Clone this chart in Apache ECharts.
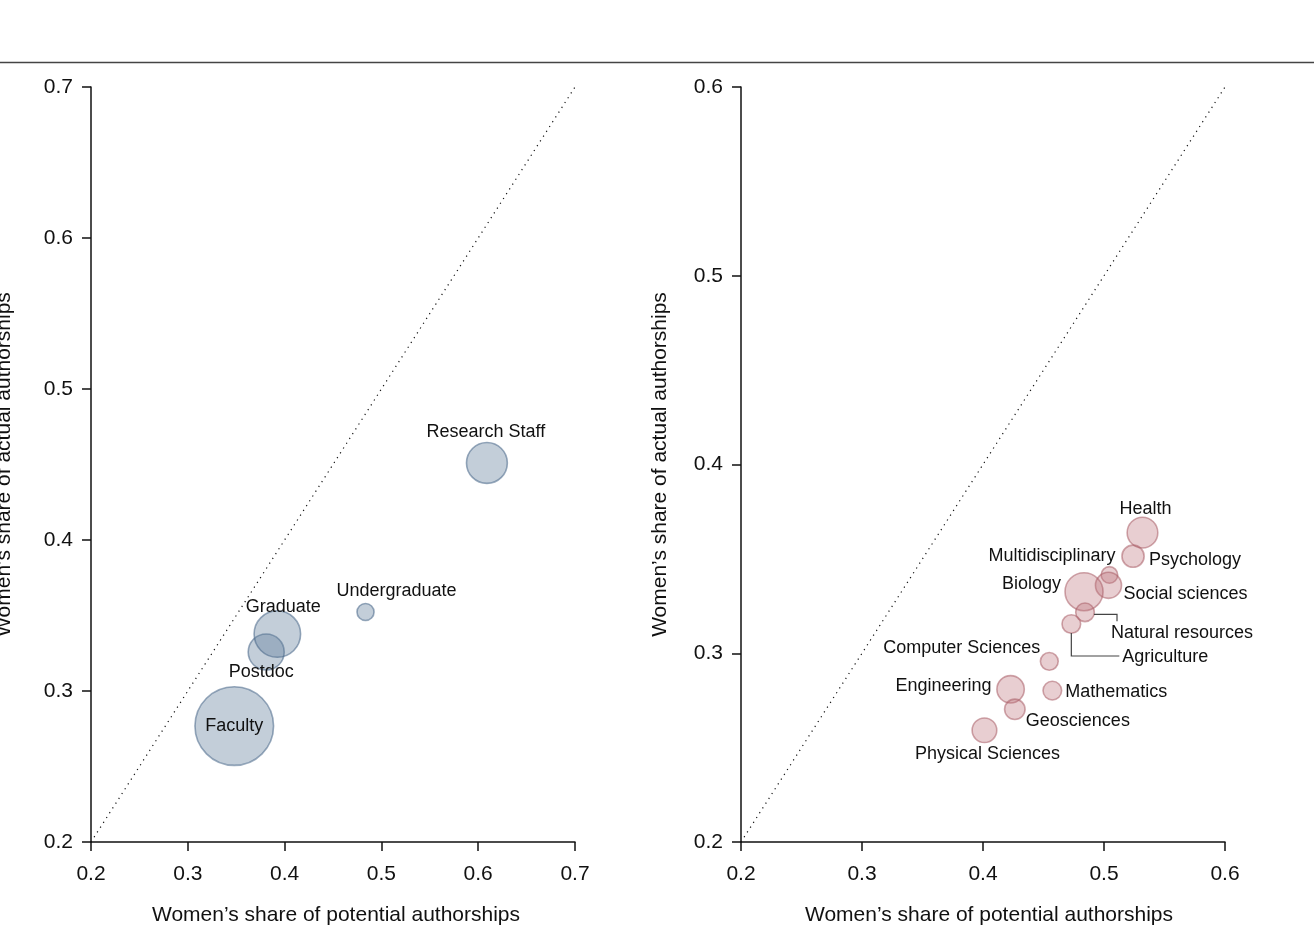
<!DOCTYPE html>
<html><head><meta charset="utf-8">
<script src="https://cdn.jsdelivr.net/npm/echarts@6/dist/echarts.min.js"></script>
<style>html,body{margin:0;padding:0;background:#fff}#c{width:1314px;height:940px}</style>
</head><body><div id="c"></div>
<script>
// ---------- data ----------
const leftNames = ['Faculty', 'Postdoc', 'Graduate', 'Undergraduate', 'Research Staff'];
const leftPotential = [0.348, 0.381, 0.3925, 0.4836, 0.609];
const leftActual = [0.2768, 0.3258, 0.3377, 0.3523, 0.451];
const leftWeight = [100, 21, 35, 4.7, 27];

const rightNames = ['Health', 'Psychology', 'Multidisciplinary', 'Social sciences', 'Biology',
  'Natural resources', 'Agriculture', 'Computer Sciences', 'Mathematics', 'Engineering',
  'Geosciences', 'Physical Sciences'];
const rightPotential = [0.5318, 0.524, 0.5045, 0.5037, 0.4835, 0.4843, 0.473, 0.4548, 0.4573, 0.4228, 0.4263, 0.4012];
const rightActual = [0.3639, 0.3514, 0.3415, 0.336, 0.3326, 0.3217, 0.3155, 0.2957, 0.2802, 0.2809, 0.2703, 0.2592];
const rightWeight = [65, 34, 19, 47, 100, 24, 24, 22, 24, 52, 29, 42];

const leftTicks = [0.2, 0.3, 0.4, 0.5, 0.6, 0.7];
const rightTicks = [0.2, 0.3, 0.4, 0.5, 0.6];
const xTitle = 'Women’s share of potential authorships';
const yTitle = 'Women’s share of actual authorships';

// ---------- styling / placement ----------
const FONT = "'Liberation Sans', Arial, Helvetica, sans-serif";
const TXT = '#111';
const labelPlace = {
  'Research Staff': ['center', [-1, -31]],
  'Undergraduate': ['center', [31, -21]],
  'Graduate': ['center', [6, -27]],
  'Postdoc': ['center', [-5, 20]],
  'Faculty': ['center', [0, 0]],
  'Health': ['center', [3, -24]],
  'Psychology': ['left', [16, 4]],
  'Multidisciplinary': ['right', [6, -19]],
  'Social sciences': ['left', [15, 9]],
  'Biology': ['right', [-23, -8]],
  'Natural resources': ['left', [26, 21]],
  'Agriculture': ['left', [51, 33]],
  'Computer Sciences': ['right', [-9, -13]],
  'Mathematics': ['left', [13, 1]],
  'Engineering': ['right', [-19, -3]],
  'Geosciences': ['left', [11, 12]],
  'Physical Sciences': ['center', [3, 24]]
};
const leaders = {
  'Natural resources': [[9, 2], [32, 2], [32, 9]],
  'Agriculture': [[0, 9], [0, 32], [48, 32]]
};

function buildData(names, xs, ys, ws) {
  return names.map((n, i) => {
    const pl = labelPlace[n];
    return {
      name: n,
      value: [xs[i], ys[i], ws[i]],
      label: { show: true, position: 'inside', align: pl[0], verticalAlign: 'middle', offset: pl[1] }
    };
  });
}

function xAxis(gi, ticks, shift) {
  return {
    type: 'value', gridIndex: gi, min: ticks[0], max: ticks[ticks.length - 1], interval: 0.1,
    name: xTitle, nameLocation: 'middle', nameGap: 63,
    nameTextStyle: { fontSize: 21, color: TXT, fontFamily: FONT, padding: [0, 0, 0, shift] },
    axisLine: { onZero: false, lineStyle: { color: '#111', width: 1.5 } },
    axisTick: { length: 9, lineStyle: { color: '#111', width: 1.5 } },
    axisLabel: { fontSize: 21, margin: 22, color: TXT, fontFamily: FONT, formatter: v => v.toFixed(1) },
    splitLine: { show: false }
  };
}
function yAxis(gi, ticks, gap) {
  return {
    type: 'value', gridIndex: gi, min: ticks[0], max: ticks[ticks.length - 1], interval: 0.1,
    name: yTitle, nameLocation: 'middle', nameGap: gap,
    nameTextStyle: { fontSize: 21, color: TXT, fontFamily: FONT },
    axisLine: { onZero: false, lineStyle: { color: '#111', width: 1.5 } },
    axisTick: { length: 9, lineStyle: { color: '#111', width: 1.5 } },
    axisLabel: { fontSize: 21, margin: 18, color: TXT, fontFamily: FONT, formatter: v => v.toFixed(1) },
    splitLine: { show: false }
  };
}

const labelStyle = { fontSize: 18, color: TXT, fontFamily: FONT };
const leaderNames = rightNames.filter(n => leaders[n]);

const option = {
  animation: false,
  backgroundColor: '#fff',
  grid: [
    { left: 91, top: 87, width: 484, height: 755, containLabel: false, outerBoundsMode: 'none' },
    { left: 741, top: 87, width: 484, height: 755, containLabel: false, outerBoundsMode: 'none' }
  ],
  xAxis: [xAxis(0, leftTicks, 6), xAxis(1, rightTicks, 12)],
  yAxis: [yAxis(0, leftTicks, 76), yAxis(1, rightTicks, 70)],
  graphic: [{
    type: 'line', shape: { x1: 0, y1: 62.5, x2: 1314, y2: 62.5 },
    style: { stroke: '#444', lineWidth: 1.5 }, silent: true
  }],
  series: [
    {
      type: 'line', xAxisIndex: 0, yAxisIndex: 0, symbol: 'none', silent: true, z: 1,
      data: [[leftTicks[0], leftTicks[0]], [leftTicks[leftTicks.length - 1], leftTicks[leftTicks.length - 1]]],
      lineStyle: { color: '#111', width: 1.2, type: [1.2, 4.5] }
    },
    {
      type: 'line', xAxisIndex: 1, yAxisIndex: 1, symbol: 'none', silent: true, z: 1,
      data: [[rightTicks[0], rightTicks[0]], [rightTicks[rightTicks.length - 1], rightTicks[rightTicks.length - 1]]],
      lineStyle: { color: '#111', width: 1.2, type: [1.2, 4.5] }
    },
    {
      type: 'scatter', xAxisIndex: 0, yAxisIndex: 0, z: 3,
      data: buildData(leftNames, leftPotential, leftActual, leftWeight),
      symbolSize: v => 78.6 * Math.sqrt(v[2] / 100),
      itemStyle: { color: 'rgba(88,118,150,0.36)', borderColor: 'rgba(70,100,135,0.55)', borderWidth: 1.6, opacity: 1 },
      label: Object.assign({ formatter: '{b}' }, labelStyle),
      emphasis: { disabled: true }
    },
    {
      type: 'scatter', xAxisIndex: 1, yAxisIndex: 1, z: 3,
      data: buildData(rightNames, rightPotential, rightActual, rightWeight),
      symbolSize: v => 38 * Math.sqrt(v[2] / 100),
      itemStyle: { color: 'rgba(184,106,114,0.33)', borderColor: 'rgba(170,95,104,0.55)', borderWidth: 1.6, opacity: 1 },
      label: Object.assign({ formatter: '{b}' }, labelStyle),
      emphasis: { disabled: true }
    },
    {
      type: 'custom', xAxisIndex: 1, yAxisIndex: 1, z: 4, silent: true,
      data: leaderNames.map(n => {
        const i = rightNames.indexOf(n);
        return { name: n, value: [rightPotential[i], rightActual[i]] };
      }),
      renderItem: (params, api) => {
        const p = api.coord([api.value(0), api.value(1)]);
        const pts = leaders[leaderNames[params.dataIndex]].map(o => [p[0] + o[0], p[1] + o[1]]);
        return { type: 'polyline', shape: { points: pts }, style: { stroke: '#444', lineWidth: 1.2, fill: null } };
      }
    }
  ]
};

const chart = echarts.init(document.getElementById('c'), null, { renderer: 'canvas' });
chart.setOption(option);
</script>
</body></html>
